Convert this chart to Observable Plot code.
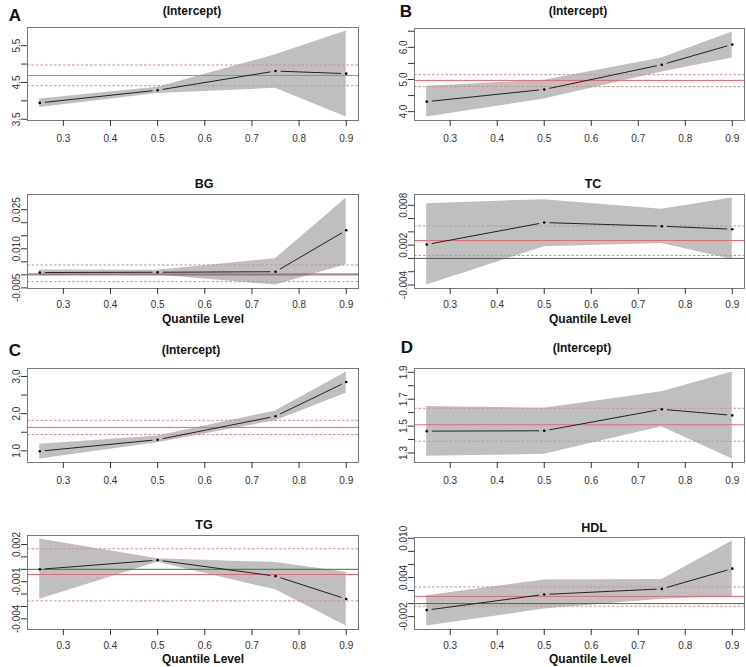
<!DOCTYPE html>
<html>
<head>
<meta charset="utf-8">
<script src="https://cdn.jsdelivr.net/npm/d3@7"></script>
<script src="https://cdn.jsdelivr.net/npm/@observablehq/plot@0.6"></script>
<style>
  body { margin: 0; background: #fff; }
  #fig { position: relative; width: 746px; height: 667px; overflow: hidden;
         font-family: "Liberation Sans", Arial, sans-serif; }
  .panel { position: absolute; }
  .lab { position: absolute; font-weight: bold; color: #111; white-space: nowrap;
         transform: translate(-50%, -50%); line-height: 1; }
</style>
</head>
<body>
<div id="fig"></div>
<script>
// Quantile levels and x-axis ticks shared by all panels
const taus = [0.25, 0.5, 0.75, 0.9];
const xTicks = [0.3, 0.4, 0.5, 0.6, 0.7, 0.8, 0.9];

// Model A
const aIntEst = [3.945, 4.29, 4.81, 4.74];
const aIntLo  = [3.82, 4.20, 4.34, 3.56];
const aIntHi  = [4.05, 4.37, 5.25, 5.90];
const aIntOls = [4.69, 4.41, 4.975];          // OLS estimate, lower, upper
const aIntYTicks  = [3.5, 4.0, 4.5, 5.0, 5.5];
const aIntYLabels = ["3.5", "", "4.5", "", "5.5"];

const bgEst = [0.0009, 0.0010, 0.0012, 0.0171];
const bgLo  = [-0.0003, -0.0001, -0.0039, 0.0039];
const bgHi  = [0.0019, 0.0018, 0.0062, 0.0295];
const bgOls = [0.0004, -0.0026, 0.0038];
const bgYTicks  = [-0.005, 0, 0.005, 0.010, 0.015, 0.020, 0.025];
const bgYLabels = ["-0.005", "", "", "0.010", "", "", "0.025"];

// Model B
const bIntEst = [4.31, 4.69, 5.46, 6.09];
const bIntLo  = [3.83, 4.39, 5.23, 5.67];
const bIntHi  = [4.79, 4.98, 5.67, 6.48];
const bIntOls = [4.97, 4.78, 5.15];
const bIntYTicks  = [4.0, 4.5, 5.0, 5.5, 6.0, 6.5];
const bIntYLabels = ["4.0", "", "5.0", "", "6.0", ""];

const tcEst = [0.0021, 0.0054, 0.00485, 0.0044];
const tcLo  = [-0.0040, 0.00175, 0.00225, -0.00015];
const tcHi  = [0.00825, 0.00885, 0.0074, 0.0091];
const tcOls = [0.0027, 0.00045, 0.0049];
const tcYTicks  = [-0.004, -0.002, 0, 0.002, 0.004, 0.006, 0.008];
const tcYLabels = ["-0.004", "", "", "0.002", "", "", "0.008"];

// Model C
const cIntEst = [0.99, 1.30, 1.93, 2.85];
const cIntLo  = [0.78, 1.22, 1.81, 2.55];
const cIntHi  = [1.18, 1.40, 2.07, 3.12];
const cIntOls = [1.63, 1.44, 1.82];
const cIntYTicks  = [1.0, 1.5, 2.0, 2.5, 3.0];
const cIntYLabels = ["1.0", "", "2.0", "", "3.0"];

const tgEst = [0.0000, 0.00074, -0.00055, -0.0024];
const tgLo  = [-0.00242, 0.00058, -0.00166, -0.00458];
const tgHi  = [0.00245, 0.00085, 0.00055, -0.00023];
const tgOls = [-0.00042, -0.00255, 0.00166];
const tgYTicks  = [-0.004, -0.003, -0.002, -0.001, 0, 0.001, 0.002];
const tgYLabels = ["-0.004", "", "", "-0.001", "", "", "0.002"];

// Model D
const dIntEst = [1.4625, 1.465, 1.625, 1.58];
const dIntLo  = [1.275, 1.29, 1.495, 1.255];
const dIntHi  = [1.645, 1.6325, 1.755, 1.9025];
const dIntOls = [1.51, 1.3875, 1.6325];
const dIntYTicks  = [1.3, 1.4, 1.5, 1.6, 1.7, 1.8, 1.9];
const dIntYLabels = ["1.3", "", "1.5", "", "1.7", "", "1.9"];

const hdlEst = [-0.0010, 0.0014, 0.00225, 0.00535];
const hdlLo  = [-0.00345, -0.00085, 0.00065, 0.0011];
const hdlHi  = [0.0012, 0.0036, 0.0037, 0.0096];
const hdlOls = [0.0011, -0.0004, 0.00255];
const hdlYTicks  = [-0.002, 0, 0.002, 0.004, 0.006, 0.008, 0.010];
const hdlYLabels = ["-0.002", "", "", "0.004", "", "", "0.010"];

// Panel definitions: series plus where each panel sits on the page
const panels = [
  { title: "(Intercept)", est: aIntEst, lo: aIntLo, hi: aIntHi, ols: aIntOls, zero: false,
    yTicks: aIntYTicks, yLabels: aIntYLabels,
    left: 0, top: 0, width: 373, height: 160, mt: 27, mb: 40, ml: 27, mr: 15,
    tx: 192, ty: 11, tsize: 12, tickPad: 8 },
  { title: "BG", est: bgEst, lo: bgLo, hi: bgHi, ols: bgOls, zero: true,
    yTicks: bgYTicks, yLabels: bgYLabels,
    left: 0, top: 160, width: 373, height: 170, mt: 34, mb: 42, ml: 27, mr: 15,
    tx: 204, ty: 184, tsize: 12.5, tickPad: 6, xlab: [203, 319] },
  { title: "(Intercept)", est: bIntEst, lo: bIntLo, hi: bIntHi, ols: bIntOls, zero: false,
    yTicks: bIntYTicks, yLabels: bIntYLabels,
    left: 373, top: 0, width: 373, height: 160, mt: 28, mb: 40, ml: 41, mr: 2,
    tx: 578, ty: 11, tsize: 12, tickPad: 8 },
  { title: "TC", est: tcEst, lo: tcLo, hi: tcHi, ols: tcOls, zero: true,
    yTicks: tcYTicks, yLabels: tcYLabels,
    left: 373, top: 160, width: 373, height: 170, mt: 34, mb: 42, ml: 41, mr: 2,
    tx: 593, ty: 184, tsize: 12.5, tickPad: 6, xlab: [590, 319] },
  { title: "(Intercept)", est: cIntEst, lo: cIntLo, hi: cIntHi, ols: cIntOls, zero: false,
    yTicks: cIntYTicks, yLabels: cIntYLabels,
    left: 0, top: 330, width: 373, height: 170, mt: 38, mb: 38, ml: 27, mr: 15,
    tx: 191, ty: 350, tsize: 12, tickPad: 8 },
  { title: "TG", est: tgEst, lo: tgLo, hi: tgHi, ols: tgOls, zero: true,
    yTicks: tgYTicks, yLabels: tgYLabels,
    left: 0, top: 500, width: 373, height: 167, mt: 35, mb: 38, ml: 27, mr: 15,
    tx: 204, ty: 525, tsize: 12.5, tickPad: 6, xlab: [203, 658.5] },
  { title: "(Intercept)", est: dIntEst, lo: dIntLo, hi: dIntHi, ols: dIntOls, zero: false,
    yTicks: dIntYTicks, yLabels: dIntYLabels,
    left: 373, top: 330, width: 373, height: 170, mt: 38, mb: 38, ml: 41, mr: 2,
    tx: 582, ty: 348, tsize: 12, tickPad: 8 },
  { title: "HDL", est: hdlEst, lo: hdlLo, hi: hdlHi, ols: hdlOls, zero: true,
    yTicks: hdlYTicks, yLabels: hdlYLabels,
    left: 373, top: 500, width: 373, height: 167, mt: 37, mb: 38, ml: 41, mr: 2,
    tx: 594, ty: 528, tsize: 12.5, tickPad: 6, xlab: [590, 658.5] }
];

const letters = [
  { text: "A", x: 15, y: 15 },
  { text: "B", x: 406, y: 11 },
  { text: "C", x: 15, y: 350 },
  { text: "D", x: 407, y: 347 }
];

const fig = document.getElementById("fig");

// R-style axis padding: 4% of the data range on each side
function padded(min, max) {
  const d = (max - min) * 0.04;
  return [min - d, max + d];
}

const xDomain = padded(d3.min(taus), d3.max(taus));

function addLabel(text, x, y, size) {
  const el = document.createElement("div");
  el.className = "lab";
  el.textContent = text;
  el.style.left = x + "px";
  el.style.top = y + "px";
  el.style.fontSize = size + "px";
  fig.appendChild(el);
}

for (const p of panels) {
  const rows = taus.map((t, i) => ({ tau: t, est: p.est[i], lo: p.lo[i], hi: p.hi[i] }));
  const segs = d3.pairs(rows).map(([a, b]) => ({ x1: a.tau, y1: a.est, x2: b.tau, y2: b.est }));
  const yDomain = padded(d3.min(p.lo), d3.max(p.hi));
  const labelOf = new Map(p.yTicks.map((v, i) => [v, p.yLabels[i]]));

  const marks = [
    Plot.areaY(rows, { x: "tau", y1: "lo", y2: "hi", fill: "#bfbfbf", curve: "linear" })
  ];
  if (p.zero) marks.push(Plot.ruleY([0], { stroke: "#5a5a5a", strokeWidth: 1 }));
  marks.push(
    Plot.ruleY([p.ols[0]], { stroke: "#df6b78", strokeWidth: 1 }),
    Plot.ruleY([p.ols[1], p.ols[2]], { stroke: "#d48a8a", strokeWidth: 1, strokeDasharray: "2.5,2" }),
    Plot.arrow(segs, { x1: "x1", y1: "y1", x2: "x2", y2: "y2", stroke: "#222",
                       strokeWidth: 1, headLength: 0, insetStart: 5.5, insetEnd: 5.5 }),
    Plot.dot(rows, { x: "tau", y: "est", r: 1.3, fill: "#000", stroke: null }),
    Plot.frame({ stroke: "#777", strokeWidth: 1 }),
    Plot.axisX({ ticks: xTicks, tickFormat: d3.format(".1f"), tickSize: 6, tickPadding: p.tickPad, label: null }),
    Plot.axisY({ ticks: p.yTicks, tickFormat: v => labelOf.get(v) ?? "", tickRotate: -90,
                 tickSize: 6, tickPadding: 2, label: null })
  );

  const chart = Plot.plot({
    width: p.width,
    height: p.height,
    marginTop: p.mt, marginBottom: p.mb, marginLeft: p.ml, marginRight: p.mr,
    x: { domain: xDomain },
    y: { domain: yDomain },
    style: { fontFamily: "'Liberation Sans', Arial, sans-serif", fontSize: "10px",
             color: "#333", background: "transparent", overflow: "visible" },
    marks
  });
  const holder = document.createElement("div");
  holder.className = "panel";
  holder.style.left = p.left + "px";
  holder.style.top = p.top + "px";
  holder.appendChild(chart);
  fig.appendChild(holder);

  addLabel(p.title, p.tx, p.ty, p.tsize);
  if (p.xlab) addLabel("Quantile Level", p.xlab[0], p.xlab[1], 12);
}

for (const l of letters) addLabel(l.text, l.x, l.y, 17);
</script>
</body>
</html>
